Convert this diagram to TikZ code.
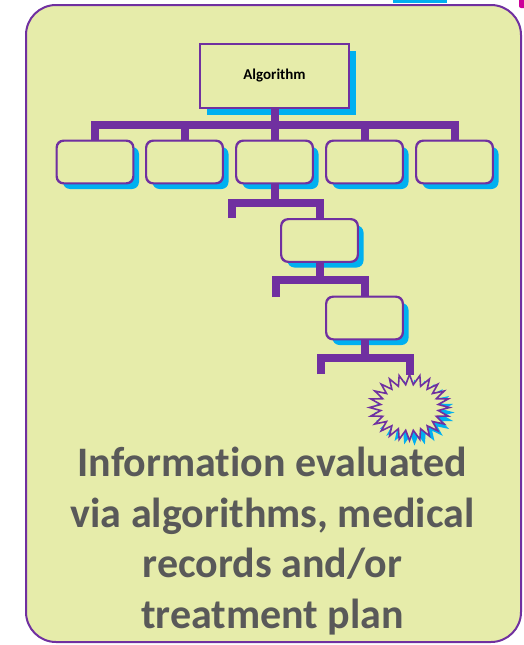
\documentclass[tikz,border=0pt]{standalone}
\usepackage{fontspec}
\setmainfont[Ligatures=NoCommon]{Carlito}
\usetikzlibrary{shadows}
\definecolor{bgfill}{HTML}{E6ECAA}
\definecolor{purp}{HTML}{7030A0}
\definecolor{sky}{HTML}{00B0F0}
\definecolor{txtgray}{HTML}{595959}
\definecolor{mag}{HTML}{CC0099}
\tikzset{
  box/.style={draw=purp, line width=1.4pt, fill=bgfill, rounded corners=7pt,
    minimum width=76pt, minimum height=42pt, inner sep=0pt,
    drop shadow={shadow xshift=6pt, shadow yshift=-6pt, fill=sky, opacity=1}},
  algbox/.style={draw=purp, line width=1.4pt, fill=bgfill,
    minimum width=149pt, minimum height=64pt, inner sep=0pt,
    font=\bfseries\fontsize{15}{17}\selectfont,
    drop shadow={shadow xshift=7pt, shadow yshift=-7pt, fill=sky, opacity=1}},
  conn/.style={draw=purp, line width=8pt, miter limit=10},
}
\begin{document}
\begin{tikzpicture}[x=1pt,y=-1pt]
\useasboundingbox (0,0) rectangle (523,645);
% cropped fragments at top
\fill[sky] (393,0) rectangle (447,3);
\fill[mag, rounded corners=2pt] (519,-3) rectangle (527,8);
% outer panel
\draw[purp, line width=2pt, fill=bgfill, rounded corners=30pt] (26,5) rectangle (521,642);

% nodes
\node[algbox] (alg) at (274.5,76) {Algorithm};
\node[box] (b1) at (95,162) {};
\node[box] (b2) at (184.5,162) {};
\node[box] (b3) at (274.5,162) {};
\node[box] (b4) at (364.5,162) {};
\node[box] (b5) at (454.5,162) {};
\node[box] (b6) at (319.5,240.5) {};
\node[box] (b7) at (364.5,318) {};

% starburst
\fill[sky, shift={(5,5)}] plot[samples=49, domain=0:48, variable=\t]
  ({409.5+(29+11*(1-mod(round(\t),2)))*sin(\t*7.5)},
   {407.5-(23+10*(1-mod(round(\t),2)))*cos(\t*7.5)}) -- cycle;
\filldraw[draw=purp, fill=bgfill, line width=1.6pt, line join=miter] plot[samples=49, domain=0:48, variable=\t]
  ({409.5+(29+11*(1-mod(round(\t),2)))*sin(\t*7.5)},
   {407.5-(23+10*(1-mod(round(\t),2)))*cos(\t*7.5)}) -- cycle;
\coordinate (startop) at (409.5,374.5);

% junctions and free ends
\coordinate (j1) at (274.5,125);
\coordinate (j2) at (274.5,203);
\coordinate (j3) at (319.5,279.5);
\coordinate (j4) at (364.5,357.5);
\coordinate (e2) at (232,218);
\coordinate (e3) at (276,297);
\coordinate (e4) at (321,374);

% connectors
\draw[conn] (alg.south) -- (j1);
\draw[conn] (b1.north) |- (j1);
\draw[conn] (b2.north) |- (j1);
\draw[conn] (b3.north) -- (j1);
\draw[conn] (b4.north) |- (j1);
\draw[conn] (b5.north) |- (j1);

\draw[conn] (b3.south) -- (j2);
\draw[conn] (e2) |- (j2);
\draw[conn] (b6.north) |- (j2);

\draw[conn] (b6.south) -- (j3);
\draw[conn] (e3) |- (j3);
\draw[conn] (b7.north) |- (j3);

\draw[conn] (b7.south) -- (j4);
\draw[conn] (e4) |- (j4);
\draw[conn] (startop) |- (j4);

% redraw box outlines over connector ends
\foreach \n in {b1,b2,b3,b4,b5,b6,b7}{
  \draw[purp, line width=1.4pt, rounded corners=7pt] (\n.south west) rectangle (\n.north east);
}
\draw[purp, line width=1.4pt] (alg.south west) rectangle (alg.north east);

% caption
\node[text=txtgray, font=\bfseries\fontsize{42}{50.5}\selectfont, align=center, anchor=base] (cap) at (272.5,628)
  {Information evaluated\\via algorithms, medical\\records and/or\\treatment plan};
\end{tikzpicture}
\end{document}
